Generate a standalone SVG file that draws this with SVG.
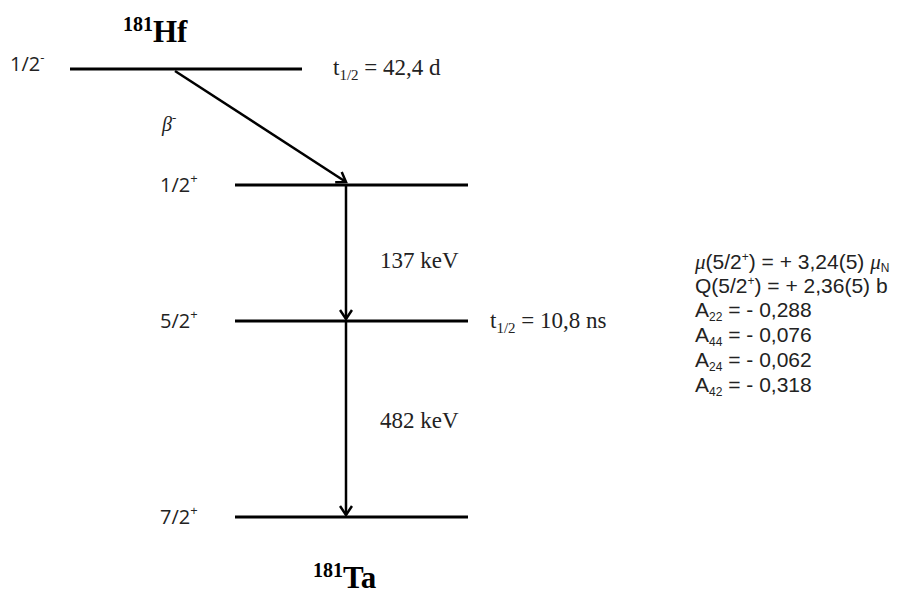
<svg xmlns="http://www.w3.org/2000/svg" width="907" height="599" viewBox="0 0 907 599">
<defs>
<style>
.lvl{stroke:#000;stroke-width:3;fill:none}
.tr{stroke:#000;stroke-width:2.5;fill:none}
.sans{font-family:"Open Sans","Liberation Sans",sans-serif;font-size:20px;fill:#222}
.props{font-family:"Liberation Sans",Arial,sans-serif;font-size:21px;fill:#222}
.serif{font-family:"Liberation Serif","Times New Roman",serif;font-size:23px;fill:#222}
.nuc{font-family:"Liberation Serif",serif;font-weight:bold;fill:#000}
.gr{font-style:italic;font-family:"Liberation Serif",serif}
</style>
<marker id="ah" markerWidth="14" markerHeight="14" refX="10" refY="7" orient="auto" markerUnits="userSpaceOnUse">
<path d="M1,1 L10,7 L1,13" fill="none" stroke="#000" stroke-width="2.5"/>
</marker>
</defs>
<rect width="907" height="599" fill="#fff"/>

<g id="hf">
<text class="nuc" x="123" y="42"><tspan font-size="20" dy="-11">181</tspan><tspan font-size="31" dy="11">Hf</tspan></text>
</g>
<g id="level-hf">
<line class="lvl" x1="70" y1="69" x2="302" y2="69"/>
<text class="sans" x="10" y="71">1/2<tspan font-size="13" dy="-9">-</tspan></text>
<text class="serif" x="333" y="75">t<tspan font-size="15" dy="5">1/2</tspan><tspan dy="-5"> = 42,4 d</tspan></text>
</g>
<g id="level-12">
<line class="lvl" x1="235" y1="185" x2="468" y2="185"/>
<text class="sans" x="160" y="192">1/2<tspan font-size="13" dy="-9">+</tspan></text>
</g>
<g id="level-52">
<line class="lvl" x1="235" y1="321" x2="468" y2="321"/>
<text class="sans" x="160" y="328">5/2<tspan font-size="13" dy="-9">+</tspan></text>
<text class="serif" x="490" y="328">t<tspan font-size="15" dy="5">1/2</tspan><tspan dy="-5"> = 10,8 ns</tspan></text>
</g>
<g id="level-72">
<line class="lvl" x1="235" y1="517" x2="468" y2="517"/>
<text class="sans" x="160" y="524">7/2<tspan font-size="13" dy="-9">+</tspan></text>
</g>
<g id="ta">
<text class="nuc" x="313" y="588"><tspan font-size="20" dy="-11">181</tspan><tspan font-size="31" dy="11">Ta</tspan></text>
</g>

<g id="connectors">
<line class="tr" x1="175" y1="71" x2="346" y2="182" marker-end="url(#ah)"/>
<line class="tr" x1="346" y1="186" x2="346" y2="319" marker-end="url(#ah)"/>
<line class="tr" x1="346" y1="322" x2="346" y2="515" marker-end="url(#ah)"/>
</g>
<g id="labels">
<text class="sans gr" x="162" y="131" font-size="22">β<tspan font-size="13" dy="-9">-</tspan></text>
<text class="serif" x="380" y="268">137 keV</text>
<text class="serif" x="380" y="428">482 keV</text>
</g>

<g id="properties" class="props">
<text x="695" y="269"><tspan class="gr">μ</tspan>(5/2<tspan font-size="12" dy="-8">+</tspan><tspan dy="8">) = + 3,24(5) </tspan><tspan class="gr">μ</tspan><tspan font-size="12" dy="3">N</tspan></text>
<text x="695" y="293">Q(5/2<tspan font-size="12" dy="-8">+</tspan><tspan dy="8">) = + 2,36(5) b</tspan></text>
<text x="695" y="317">A<tspan font-size="12" dy="4">22</tspan><tspan dy="-4"> = - 0,288</tspan></text>
<text x="695" y="342">A<tspan font-size="12" dy="4">44</tspan><tspan dy="-4"> = - 0,076</tspan></text>
<text x="695" y="367">A<tspan font-size="12" dy="4">24</tspan><tspan dy="-4"> = - 0,062</tspan></text>
<text x="695" y="392">A<tspan font-size="12" dy="4">42</tspan><tspan dy="-4"> = - 0,318</tspan></text>
</g>
</svg>
